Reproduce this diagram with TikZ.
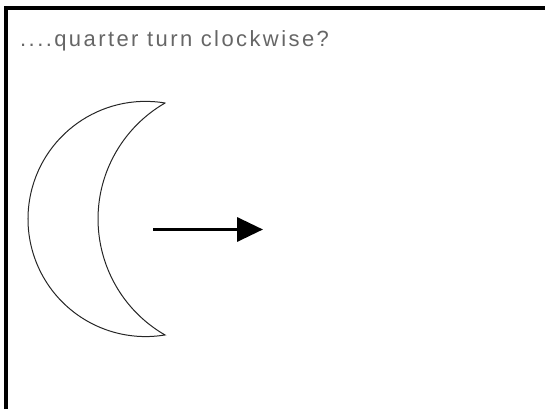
\documentclass[tikz,border=0pt]{standalone}
\usepackage{fontspec}
\newfontfamily\questionfont[LetterSpace=11]{Liberation Sans}
\usepackage{tikz}
\usetikzlibrary{arrows.meta, positioning}

\begin{document}
\begin{tikzpicture}[x=1pt, y=1pt, moonline/.style={line width=1pt, black!85}]
    % Fix the page size
    \useasboundingbox (0,0) rectangle (545,409);

    % Draw the frame (top and left edges only)
    \draw[line width=4pt] (6,0) -- (6,401) -- (545,401);

    % Add the question
    \node[anchor=base west, inner sep=0pt, text=black!60,
        font=\questionfont\fontsize{22}{24}\selectfont] (question) at (20,362)
        {....quarter turn clockwise?};

    % Draw the crescent
    \draw[moonline] (165,306) arc[start angle=80.5, end angle=279.5, radius=117.6]
        arc[start angle=240, end angle=120, radius=133.9] -- cycle;

    % Arrow
    \coordinate (tail) at (153,179.5);
    \coordinate (head) at (263,179.5);
    \draw[-{Triangle[length=26pt, width=24pt]}, line width=3.5pt] (tail) -- (head);

\end{tikzpicture}
\end{document}
